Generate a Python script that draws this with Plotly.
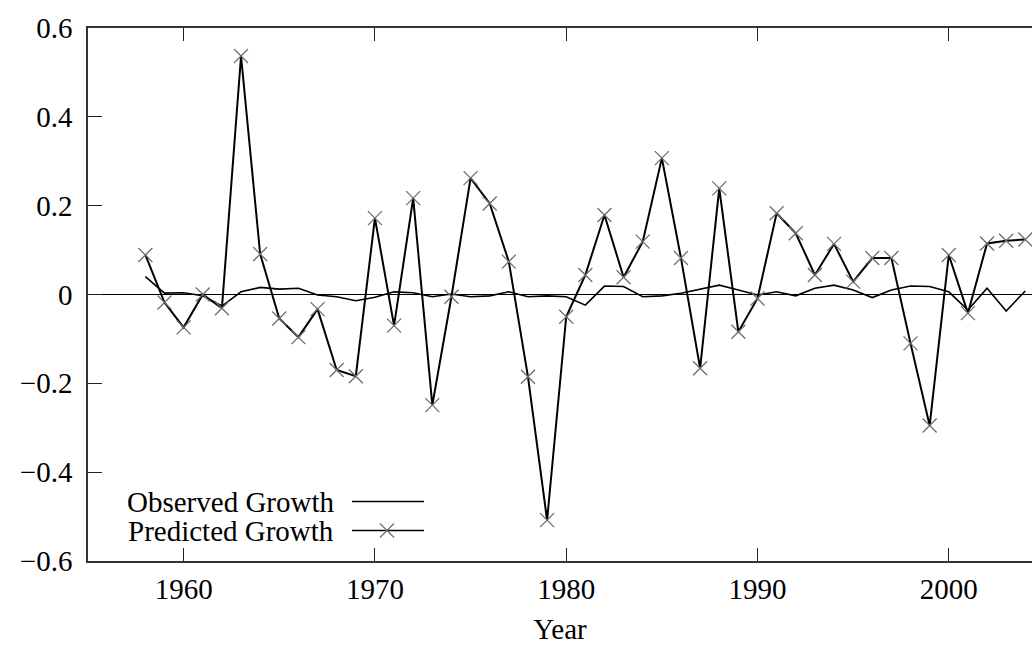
import plotly.graph_objects as go

years = list(range(1958, 2005))
observed = [0.040, 0.003, 0.004, -0.003, -0.026, 0.006, 0.016, 0.012, 0.014, -0.001,
            -0.005, -0.014, -0.006, 0.006, 0.004, -0.005, 0.001, -0.005, -0.003, 0.006,
            -0.005, -0.003, -0.005, -0.024, 0.019, 0.018, -0.005, -0.003, 0.003, 0.012,
            0.021, 0.010, -0.001, 0.006, -0.003, 0.014, 0.021, 0.010, -0.007, 0.010,
            0.019, 0.018, 0.006, -0.035, 0.014, -0.037, 0.008]
predicted = [0.089, -0.018, -0.074, 0.000, -0.031, 0.537, 0.091, -0.054, -0.096, -0.033,
             -0.170, -0.184, 0.172, -0.070, 0.217, -0.249, -0.005, 0.262, 0.205, 0.074,
             -0.185, -0.508, -0.050, 0.044, 0.179, 0.039, 0.119, 0.307, 0.082, -0.166,
             0.239, -0.084, -0.009, 0.183, 0.138, 0.044, 0.114, 0.029, 0.082, 0.082,
             -0.110, -0.295, 0.089, -0.042, 0.115, 0.121, 0.124]

x_ticks = [1960, 1970, 1980, 1990, 2000]
y_ticks = [-0.6, -0.4, -0.2, 0, 0.2, 0.4, 0.6]
y_ticktext = ["\u22120.6", "\u22120.4", "\u22120.2", "0", "0.2", "0.4", "0.6"]
legend_labels = ["Observed Growth", "Predicted Growth"]

FONT = "Liberation Serif"
FS = 29
LEG_FS = 29
MARK_COLOR = "#6e6e6e"

fig = go.Figure()
fig.add_trace(go.Scatter(x=years, y=observed, mode="lines",
                         line=dict(color="black", width=1.6),
                         name=legend_labels[0], showlegend=False))
fig.add_trace(go.Scatter(x=years, y=predicted, mode="lines+markers",
                         line=dict(color="black", width=2),
                         marker=dict(symbol="x-thin", size=14,
                                     line=dict(color=MARK_COLOR, width=1.3)),
                         name=legend_labels[1], showlegend=False))

# plot area in pixels: x 88..1032, y 28..561
L, R, T, B = 88, 1032, 28, 561
def px(xp):
    return (xp - L) / (R - L)
def py(yp):
    return (B - yp) / (B - T)

shapes = []
annotations = []
leg_rows = [(501.5, legend_labels[0], False), (530.5, legend_labels[1], True)]
for yc, label, has_marker in leg_rows:
    annotations.append(dict(x=px(336), y=py(yc), xref="paper", yref="paper",
                            text=label, showarrow=False, xanchor="right",
                            yanchor="middle", font=dict(family=FONT, size=LEG_FS, color="black")))
    shapes.append(dict(type="line", xref="paper", yref="paper",
                       x0=px(352), x1=px(424), y0=py(yc), y1=py(yc),
                       line=dict(color="black", width=1.6)))
    if has_marker:
        cx, h = 387, 7
        shapes.append(dict(type="line", xref="paper", yref="paper",
                           x0=px(cx - h), x1=px(cx + h), y0=py(yc - h), y1=py(yc + h),
                           line=dict(color=MARK_COLOR, width=1.3)))
        shapes.append(dict(type="line", xref="paper", yref="paper",
                           x0=px(cx - h), x1=px(cx + h), y0=py(yc + h), y1=py(yc - h),
                           line=dict(color=MARK_COLOR, width=1.3)))

fig.update_layout(
    width=1032, height=645,
    margin=dict(l=L, r=1032 - R, t=T, b=645 - B, autoexpand=False),
    paper_bgcolor="white", plot_bgcolor="white",
    font=dict(family=FONT, size=FS, color="black"),
    showlegend=False,
    shapes=shapes, annotations=annotations,
    xaxis=dict(range=[1955, 2004.35], tickvals=x_ticks, ticks="inside", ticklen=13,
               tickwidth=1.3, tickcolor="#222", showline=True, linecolor="#333",
               linewidth=1.6, mirror="ticks", showgrid=False, zeroline=False,
               ticklabelstandoff=1, automargin=False,
               title=dict(text="Year", font=dict(family=FONT, size=FS), standoff=23)),
    yaxis=dict(range=[-0.6, 0.6], tickvals=y_ticks, ticktext=y_ticktext, ticks="inside",
               ticklen=14, tickwidth=1.3, tickcolor="#222", showline=True,
               linecolor="#333", linewidth=1.6, mirror=False, showgrid=False,
               zeroline=True, zerolinecolor="black", zerolinewidth=1,
               ticklabelstandoff=8, automargin=False),
)

fig.write_html("out.html", config={"displayModeBar": False},
               post_script="document.body.style.margin='0px';document.body.style.overflow='hidden';")
